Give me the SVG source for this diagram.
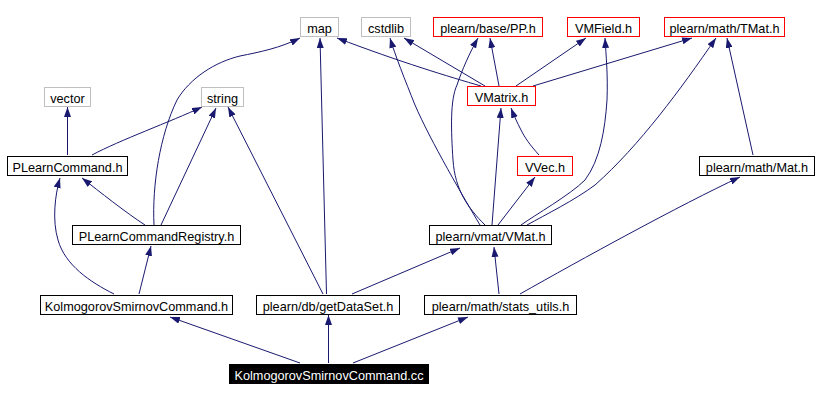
<svg xmlns="http://www.w3.org/2000/svg" width="818" height="401" viewBox="0 0 818 401">
<style>
.n rect{fill:#fff;stroke:#000;stroke-width:1}
.g rect{stroke:#bfbfbf}
.r rect{stroke:#ff0000}
.k rect{fill:#000}
.n text{font-family:"Liberation Sans",Arial,sans-serif;font-size:12.7px;text-anchor:middle;fill:#000}
.k text{fill:#fff}
.e path{fill:none;stroke:#191970;stroke-width:1;marker-end:url(#a)}
</style>
<defs>
<marker id="a" markerUnits="userSpaceOnUse" markerWidth="10" markerHeight="7" refX="10" refY="3.5" orient="auto"><path d="M0,0L10,3.5L0,7z" fill="#191970"/></marker>
</defs>
<rect width="818" height="401" fill="#fff"/>
<g id="connectors" class="e">
<path d="M67.5,155 L67.5,107"/>
<path d="M92,155 C120,140 170,122 202,107"/>
<path d="M145,225 C125,212 100,192 82,178"/>
<path d="M161,225 L216,108"/>
<path d="M154,225 C152,185 160,135 177,100 C190,78 215,62 240,56 C260,52 280,48 300,38"/>
<path d="M114,294 C90,282 65,265 58,240 C52,220 55,195 60,178"/>
<path d="M139,294 L151,246"/>
<path d="M300,363 L170,317"/>
<path d="M328.5,363 L328.5,315"/>
<path d="M353,363 L468,317"/>
<path d="M323,294 L228,107"/>
<path d="M326.5,294 L320,38"/>
<path d="M352,294 L460,248"/>
<path d="M499,294 L494,247"/>
<path d="M520,294 C580,260 680,205 740,177"/>
<path d="M498,225 L535,177"/>
<path d="M492,225 L501,108"/>
<path d="M480,225 C465,200 430,140 415,105 C405,80 395,55 390,38"/>
<path d="M485,225 C468,208 455,190 453,160 C451,130 450,100 457,85 C462,70 470,52 478,38"/>
<path d="M521,225 C535,215 570,195 585,180 C600,160 605,130 607,100 C608,75 606,55 605,38"/>
<path d="M527,225 C545,215 575,200 595,185 C640,145 680,90 716,38"/>
<path d="M481,86 C450,77 400,62 337,38"/>
<path d="M485,86 L404,38"/>
<path d="M499,86 L490,38"/>
<path d="M516,86 L586,38"/>
<path d="M533,86 L692,38"/>
<path d="M539,155 C530,145 525,138 521,130 C517,122 514,116 511,108"/>
<path d="M753,155 L727,38"/>
</g>
<g id="map" class="n g"><rect x="300.5" y="17.5" width="38" height="19"/><text x="319.5" y="32.5">map</text></g>
<g id="cstdlib" class="n g"><rect x="361.5" y="17.5" width="49" height="19"/><text x="386" y="32.5">cstdlib</text></g>
<g id="pp" class="n r"><rect x="433.5" y="17.5" width="109" height="19"/><text x="488" y="32.5">plearn/base/PP.h</text></g>
<g id="vmfield" class="n r"><rect x="567.5" y="17.5" width="72" height="19"/><text x="603.5" y="32.5">VMField.h</text></g>
<g id="tmat" class="n r"><rect x="664.5" y="17.5" width="120" height="19"/><text x="724.5" y="32.5">plearn/math/TMat.h</text></g>
<g id="vector" class="n g"><rect x="44.5" y="87.5" width="46" height="19"/><text x="67.5" y="102.5">vector</text></g>
<g id="string" class="n g"><rect x="201.5" y="87.5" width="42" height="19"/><text x="222.5" y="102.5">string</text></g>
<g id="vmatrix" class="n r"><rect x="467.5" y="86.5" width="68" height="19"/><text x="501.5" y="101.5">VMatrix.h</text></g>
<g id="plearncommand" class="n"><rect x="7.5" y="156.5" width="120" height="19"/><text x="67.5" y="171.5">PLearnCommand.h</text></g>
<g id="vvec" class="n r"><rect x="517.5" y="156.5" width="55" height="19"/><text x="545" y="171.5">VVec.h</text></g>
<g id="mat" class="n"><rect x="699.5" y="156.5" width="115" height="19"/><text x="757" y="171.5">plearn/math/Mat.h</text></g>
<g id="registry" class="n"><rect x="72.5" y="225.5" width="168" height="19"/><text x="156.5" y="240.5">PLearnCommandRegistry.h</text></g>
<g id="vmat" class="n"><rect x="429.5" y="225.5" width="122" height="19"/><text x="490.5" y="240.5">plearn/vmat/VMat.h</text></g>
<g id="ksch" class="n"><rect x="40.5" y="295.5" width="192" height="19"/><text x="136.5" y="310.5">KolmogorovSmirnovCommand.h</text></g>
<g id="getdataset" class="n"><rect x="256.5" y="295.5" width="143" height="19"/><text x="328" y="310.5">plearn/db/getDataSet.h</text></g>
<g id="statsutils" class="n"><rect x="424.5" y="295.5" width="152" height="19"/><text x="500.5" y="310.5">plearn/math/stats_utils.h</text></g>
<g id="kscc" class="n k"><rect x="229.5" y="364.5" width="199" height="19"/><text x="329" y="379.5">KolmogorovSmirnovCommand.cc</text></g>
</svg>
